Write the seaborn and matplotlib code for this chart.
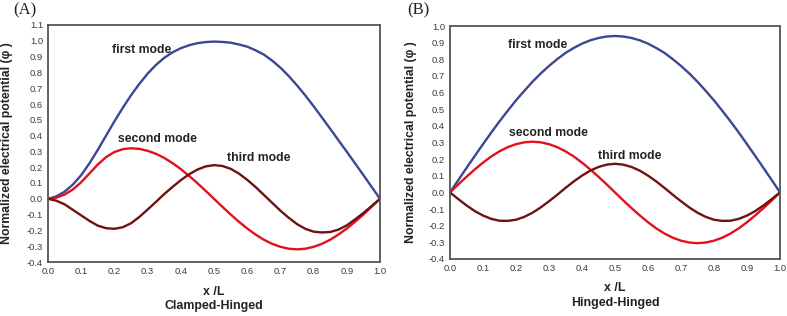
import matplotlib
matplotlib.use("Agg")
import matplotlib.pyplot as plt
import seaborn as sns
import pandas as pd
from matplotlib.ticker import MultipleLocator, FormatStrFormatter

# ---------------- data ----------------
x_pos = [0.0, 0.025, 0.05, 0.075, 0.1, 0.125, 0.15, 0.175, 0.2, 0.225,
         0.25, 0.275, 0.3, 0.325, 0.35, 0.375, 0.4, 0.425, 0.45, 0.475,
         0.5, 0.525, 0.55, 0.575, 0.6, 0.625, 0.65, 0.675, 0.7, 0.725,
         0.75, 0.775, 0.8, 0.825, 0.85, 0.875, 0.9, 0.925, 0.95, 0.975, 1.0]

# (A) Clamped-Hinged
a_first = [0.0, 0.015, 0.045, 0.09, 0.15, 0.225, 0.31, 0.40, 0.49, 0.575,
           0.655, 0.727, 0.792, 0.847, 0.892, 0.927, 0.953, 0.972, 0.985, 0.992,
           0.995, 0.993, 0.988, 0.977, 0.963, 0.94, 0.913, 0.875, 0.83, 0.777,
           0.718, 0.654, 0.586, 0.515, 0.443, 0.37, 0.298, 0.224, 0.15, 0.075, 0.0]
a_second = [0.0, 0.007, 0.027, 0.059, 0.105, 0.161, 0.217, 0.264, 0.296, 0.314,
            0.32, 0.316, 0.304, 0.285, 0.259, 0.226, 0.188, 0.145, 0.099, 0.05,
            0.0, -0.05, -0.099, -0.145, -0.188, -0.226, -0.259, -0.285, -0.304, -0.316,
            -0.32, -0.316, -0.304, -0.285, -0.259, -0.226, -0.188, -0.145, -0.099, -0.05, 0.0]
a_third = [0.0, -0.012, -0.035, -0.07, -0.105, -0.14, -0.17, -0.186, -0.19, -0.18,
           -0.155, -0.115, -0.068, -0.02, 0.03, 0.075, 0.118, 0.155, 0.185, 0.205,
           0.213, 0.208, 0.19, 0.16, 0.12, 0.075, 0.025, -0.025, -0.075, -0.12,
           -0.16, -0.19, -0.208, -0.213, -0.21, -0.195, -0.168, -0.13, -0.09, -0.045, 0.0]

# (B) Hinged-Hinged
b_first = [0.0, 0.074, 0.147, 0.219, 0.29, 0.36, 0.427, 0.491, 0.553, 0.61,
           0.665, 0.715, 0.76, 0.801, 0.838, 0.868, 0.894, 0.914, 0.928, 0.937,
           0.94, 0.937, 0.928, 0.914, 0.894, 0.868, 0.838, 0.801, 0.76, 0.715,
           0.665, 0.61, 0.553, 0.491, 0.427, 0.36, 0.29, 0.219, 0.147, 0.074, 0.0]
b_second = [0.0, 0.048, 0.094, 0.138, 0.179, 0.216, 0.247, 0.272, 0.29, 0.301,
            0.305, 0.301, 0.29, 0.272, 0.247, 0.216, 0.179, 0.138, 0.094, 0.048,
            0.0, -0.048, -0.094, -0.138, -0.179, -0.216, -0.247, -0.272, -0.29, -0.301,
            -0.305, -0.301, -0.29, -0.272, -0.247, -0.216, -0.179, -0.138, -0.094, -0.048, 0.0]
b_third = [0.0, -0.04, -0.078, -0.112, -0.139, -0.159, -0.17, -0.171, -0.164, -0.147,
           -0.122, -0.09, -0.053, -0.014, 0.027, 0.066, 0.101, 0.131, 0.153, 0.167,
           0.172, 0.167, 0.153, 0.131, 0.101, 0.066, 0.027, -0.014, -0.053, -0.09,
           -0.122, -0.147, -0.164, -0.171, -0.17, -0.159, -0.139, -0.112, -0.078, -0.04, 0.0]

mode_names = ["first mode", "second mode", "third mode"]
panel_titles = ["(A)", "(B)"]
conditions = ["Clamped-Hinged", "Hinged-Hinged"]
y_limits = [(-0.4, 1.1), (-0.4, 1.0)]
# label anchor positions (data coords)
label_pos_a = [(0.283, 0.94), (0.33, 0.379), (0.634, 0.257)]
label_pos_b = [(0.266, 0.886), (0.299, 0.355), (0.543, 0.22)]

colors = ["#3a4795", "#e3101c", "#6e1212"]

sns.set_style("white")
plt.rcParams["font.family"] = ["Liberation Sans", "DejaVu Sans"]

fig = plt.figure(figsize=(7.87, 3.16), dpi=100)
W, H = 787, 316
axA = fig.add_axes([48 / W, 1 - 262 / H, 332 / W, 237 / H])
axB = fig.add_axes([450 / W, 1 - 259 / H, 330 / W, 233 / H])

panels = [
    (axA, [a_first, a_second, a_third], label_pos_a, -0.105),
    (axB, [b_first, b_second, b_third], label_pos_b, -0.10),
]

for i, (ax, series, lpos, ylab_x) in enumerate(panels):
    df = pd.DataFrame({"x": x_pos})
    for name, vals in zip(mode_names, series):
        df[name] = vals
    long = df.melt(id_vars="x", var_name="mode", value_name="phi")
    sns.lineplot(data=long, x="x", y="phi", hue="mode", palette=colors,
                 hue_order=mode_names, linewidth=1.7, ax=ax, legend=False,
                 solid_capstyle="round")
    ax.set_xlim(0, 1.0)
    ax.set_ylim(*y_limits[i])
    ax.xaxis.set_major_locator(MultipleLocator(0.1))
    ax.xaxis.set_minor_locator(MultipleLocator(0.05))
    ax.yaxis.set_major_locator(MultipleLocator(0.1))
    ax.yaxis.set_minor_locator(MultipleLocator(0.05))
    ax.xaxis.set_major_formatter(FormatStrFormatter("%.1f"))
    ax.yaxis.set_major_formatter(FormatStrFormatter("%.1f"))
    ax.tick_params(which="major", direction="in", length=3.5, width=1.0,
                   color="#444444", labelsize=6.8, labelcolor="#3a3a3a", pad=3.5)
    ax.tick_params(which="minor", direction="in", length=2, width=0.9,
                   color="#444444")
    ax.tick_params(top=False, right=False, which="both")
    for sp in ax.spines.values():
        sp.set_linewidth(1.3)
        sp.set_color("#555555")
    ax.set_xlabel("")
    ax.set_ylabel("Normalized electrical potential (\u03c6 )", fontsize=8.8,
                  fontweight="bold", color="#222222")
    ax.yaxis.set_label_coords(ylab_x, 0.5)
    ax.text(0.5, -0.125, "x /L", transform=ax.transAxes, ha="center",
            va="center", fontsize=8.9, fontweight="bold", color="#222222")
    ax.text(0.5, -0.187, conditions[i], transform=ax.transAxes, ha="center",
            va="center", fontsize=8.9, fontweight="bold", color="#222222")
    for name, (lx, ly) in zip(mode_names, lpos):
        ax.text(lx, ly, name, ha="center", va="center", fontsize=8.8,
                fontweight="bold", color="#222222")

fig.text(25 / W, 1 - 10 / H, panel_titles[0], ha="center", va="center",
         fontsize=12, family="Liberation Serif", color="#222222")
fig.text(418 / W, 1 - 10 / H, panel_titles[1], ha="center", va="center",
         fontsize=12, family="Liberation Serif", color="#222222")

fig.savefig("out.png", dpi=100, facecolor="white")
